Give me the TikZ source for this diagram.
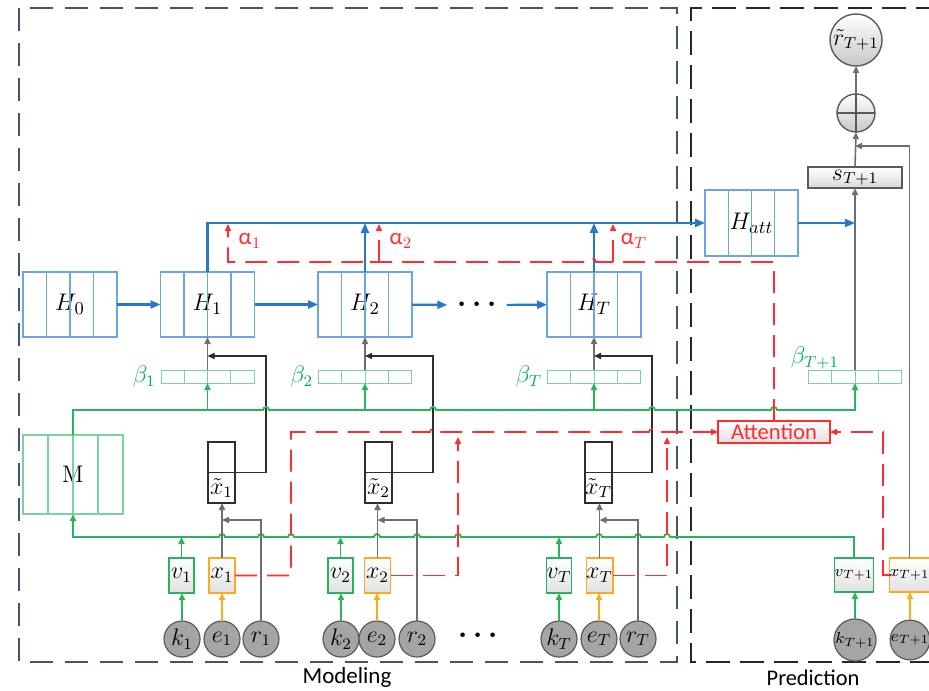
\documentclass[tikz,border=0pt]{standalone}
\usepackage{fontspec}
\usetikzlibrary{arrows.meta,calc}
\newfontfamily\carlito{Carlito}
\definecolor{hblue}{RGB}{110,165,220}
\definecolor{ablue}{RGB}{40,120,200}
\definecolor{gline}{RGB}{40,180,90}
\definecolor{lgreen}{RGB}{125,210,155}
\definecolor{tgreen}{RGB}{0,176,80}
\definecolor{rline}{RGB}{255,45,45}
\definecolor{oline}{RGB}{255,170,30}
\definecolor{gyline}{RGB}{110,110,110}
\definecolor{bkline}{RGB}{45,45,45}
\definecolor{mborder}{RGB}{68,84,106}
\definecolor{cfill}{RGB}{165,165,165}
\definecolor{cdraw}{RGB}{90,90,90}
\tikzset{
  arr/.style={-{Triangle[length=3.5pt,width=3pt]}},
  barr/.style={-{Triangle[length=5pt,width=4pt]}},
  hbox/.style={draw=hblue, line width=0.6pt, inner sep=0pt, outer sep=0pt, minimum width=47pt, minimum height=32.5pt, font=\fontsize{12.5}{14}\selectfont},
  bbar/.style={draw=lgreen, line width=0.5pt, inner sep=0pt, outer sep=0pt, minimum width=46.5pt, minimum height=6.5pt},
  mbox/.style={draw=lgreen, line width=0.6pt, inner sep=0pt, outer sep=0pt, minimum width=50pt, minimum height=39.5pt, font=\fontsize{12}{14}\selectfont},
  xtbox/.style={draw=bkline, line width=0.6pt, inner sep=0pt, outer sep=0pt, minimum width=13.5pt, minimum height=30.5pt},
  vbox/.style={draw=gline, line width=0.7pt, top color=white, bottom color=black!12, inner sep=0pt, outer sep=0pt, minimum width=12.5pt, minimum height=17.5pt, font=\fontsize{11.5}{13}\selectfont},
  xbox/.style={vbox, draw=oline, minimum width=13pt},
  inp/.style={circle, draw=cdraw, fill=cfill, line width=0.6pt, inner sep=0pt, outer sep=0pt, minimum size=18pt, font=\fontsize{11.5}{13}\selectfont},
  gcirc/.style={circle, draw=cdraw, top color=white, bottom color=black!22, line width=0.7pt, inner sep=0pt, outer sep=0pt},
  lab/.style={inner sep=1pt, font=\fontsize{11.5}{13}\selectfont},
  dotsn/.style={inner sep=5pt, font=\fontsize{14}{14}\selectfont\boldmath},
  bl/.style={draw=ablue, line width=1.1pt},
  gl/.style={draw=gline, line width=0.9pt},
  gyl/.style={draw=gyline, line width=0.8pt},
  bkl/.style={draw=bkline, line width=0.8pt},
  ol/.style={draw=oline, line width=0.9pt},
  rdl/.style={draw=rline, line width=0.8pt, dash pattern=on 11pt off 5pt},
}
\begin{document}
\begin{tikzpicture}[x=0.5pt,y=-0.5pt]
\useasboundingbox[fill=white] (0,0) rectangle (929,690);
% frames
\draw[draw=mborder, line width=1.1pt, dash pattern=on 11.5pt off 6pt] (19,8) rectangle (677,662);
\draw[draw=black!85, line width=1.1pt, dash pattern=on 12pt off 5pt] (940,8) -- (691,8) -- (691,662) -- (940,662);
\node[font=\carlito\fontsize{11.5}{13}\selectfont] (lmod) at (347,677) {Modeling};
\node[font=\carlito\fontsize{11.2}{13}\selectfont] (lpred) at (813,678) {Prediction};
% H boxes
\node[hbox] (H0) at (70,304.5) {$H_0$};
\node[hbox] (H1) at (207.5,304.5) {$H_1$};
\node[hbox] (H2) at (365,304.5) {$H_2$};
\node[hbox] (HT) at (594,304.5) {$H_T$};
\node[hbox, minimum width=46.5pt, minimum height=33pt] (Hatt) at (751.5,223) {$H_{att}$};
\foreach \n in {H0,H1,H2,HT,Hatt}{\foreach \f in {0.25,0.5,0.75}{\draw[draw=hblue,line width=0.6pt] ($(\n.north west)!\f!(\n.north east)$) -- ($(\n.south west)!\f!(\n.south east)$);}}
\node[dotsn] (dots1) at (477,305) {$\cdots$};
% beta bars
\node[bbar] (b1) at (207.5,376.5) {};
\node[bbar] (b2) at (365,376.5) {};
\node[bbar] (bT) at (594,376.5) {};
\node[bbar] (bT1) at (855,376.5) {};
\foreach \n in {b1,b2,bT,bT1}{\foreach \f in {0.25,0.5,0.75}{\draw[draw=lgreen,line width=0.5pt] ($(\n.north west)!\f!(\n.north east)$) -- ($(\n.south west)!\f!(\n.south east)$);}}
\node[lab, text=tgreen, anchor=east] (lb1) at ($(b1.west)+(-3,0)$) {$\beta_1$};
\node[lab, text=tgreen, anchor=east] (lb2) at ($(b2.west)+(-3,0)$) {$\beta_2$};
\node[lab, text=tgreen, anchor=east] (lbT) at ($(bT.west)+(-3,0)$) {$\beta_T$};
\node[lab, text=tgreen] (lbT1) at (815,358) {$\beta_{T+1}$};
% M
\node[mbox] (M) at (73,474.5) {M};
\foreach \f in {0.25,0.5,0.75}{\draw[draw=lgreen,line width=0.6pt] ($(M.north west)!\f!(M.north east)$) -- ($(M.south west)!\f!(M.south east)$);}
% x tilde boxes
\node[xtbox] (xt1) at (221.5,472.5) {};
\node[xtbox] (xt2) at (378.5,472.5) {};
\node[xtbox] (xtT) at (598.5,472.5) {};
\foreach \n in {xt1,xt2,xtT}{\draw[draw=bkline,line width=0.6pt] (\n.west) -- (\n.east);}
\node[lab] (lxt1) at (221.5,488) {$\tilde{x}_1$};
\node[lab] (lxt2) at (378.5,488) {$\tilde{x}_2$};
\node[lab] (lxtT) at (598.5,488) {$\tilde{x}_T$};
% input boxes
\node[vbox] (v1) at (181.5,575.5) {$v_1$};
\node[xbox] (x1) at (222,575.5) {$x_1$};
\node[vbox] (v2) at (340.5,575.5) {$v_2$};
\node[xbox] (x2) at (377.5,575.5) {$x_2$};
\node[vbox] (vT) at (559,575.5) {$v_T$};
\node[xbox] (xT) at (599.5,575.5) {$x_T$};
\node[vbox, minimum width=17pt, minimum height=17pt, font=\fontsize{8.5}{10}\selectfont] (vT1) at (854,575) {$v_{T+1}$};
\node[xbox, minimum width=17.5pt, minimum height=17pt, font=\fontsize{8.5}{10}\selectfont] (xT1) at (909.5,575) {$x_{T+1}$};
% circles
\node[inp] (k1) at (182,639) {$k_1$};
\node[inp] (e1) at (222,639) {$e_1$};
\node[inp] (r1) at (261,639) {$r_1$};
\node[inp] (k2) at (341,639) {$k_2$};
\node[inp] (e2) at (377,639) {$e_2$};
\node[inp] (r2) at (417,639) {$r_2$};
\node[inp] (kT) at (559,639) {$k_T$};
\node[inp] (eT) at (599,639) {$e_T$};
\node[inp] (rT) at (638,639) {$r_T$};
\node[inp, minimum size=19pt, font=\fontsize{8.5}{10}\selectfont] (kT1) at (855,640) {$k_{T+1}$};
\node[inp, minimum size=19pt, font=\fontsize{8.5}{10}\selectfont] (eT1) at (910,640) {$e_{T+1}$};
\node[dotsn] (dots2) at (478,636) {$\cdots$};
% prediction column
\node[gcirc, minimum size=26pt, font=\fontsize{11.5}{13}\selectfont] (rt) at (856,40) {$\tilde{r}_{T+1}$};
\node[gcirc, minimum size=19pt] (plus) at (856,113) {};
\draw[draw=cdraw, line width=0.7pt] (plus.north) -- (plus.south) (plus.west) -- (plus.east);
\node[draw=cdraw, line width=0.6pt, top color=white, bottom color=black!15, minimum width=47pt, minimum height=10.5pt, inner sep=0pt, outer sep=0pt, font=\fontsize{11.5}{13}\selectfont] (s) at (855,177.5) {$s_{T+1}$};
\node[draw=rline, line width=0.8pt, top color=white, bottom color=black!12, text=rline, font=\carlito\fontsize{11.3}{13}\selectfont, minimum width=56pt, minimum height=11pt, inner sep=0pt, outer sep=0pt] (att) at (774,432) {Attention};
% alpha labels
\node[lab, text=rline, font=\carlito\fontsize{11.5}{13}\selectfont] (la1) at (250,241) {α$_1$};
\node[lab, text=rline, font=\carlito\fontsize{11.5}{13}\selectfont] (la2) at (401,241) {α$_2$};
\node[lab, text=rline, font=\carlito\fontsize{11.5}{13}\selectfont] (laT) at (634,241) {α$_T$};
% coordinates
\coordinate (hy) at (0,356);
\coordinate (gy) at (0,410);
\coordinate (gb) at (0,537);
\coordinate (ry) at (0,520);
\coordinate (pj) at (855,146);
\coordinate (a2s) at (379,262); \coordinate (a2e) at (379,224);
\coordinate (aTs) at (613,262); \coordinate (aTe) at (613,224);
% blue chain
\draw[bl,barr] (H0) -- (H1);
\draw[bl,barr] (H1) -- (H2);
\draw[bl,barr] (H2) -- (dots1);
\draw[bl,barr] (dots1) -- (HT);
\draw[bl,barr] (H1.north) |- (Hatt.west);
\draw[bl,barr] (H2.north) -- (H2.north |- Hatt.west);
\draw[bl,barr] (HT.north) -- (HT.north |- Hatt.west);
\draw[bl,barr] (Hatt.east) -- (Hatt.east -| s.south);
% prediction gray
\draw[gyl,arr] (bT1.north) -- (s.south);
\draw[gyl,arr] (s.north) -- (plus.south);
\draw[gyl,arr] (plus.north) -- (rt.south);
\draw[gyl,arr] (xT1.north) |- (pj);
% beta -> H, xtilde -> H
\foreach \n/\bx in {1/266,2/433,T/652}{
  \draw[gyl,arr] (b\n.north) -- (H\n.south);
  \draw[bkl,arr] (xt\n.east) -- (\bx,472.5) |- (H\n.south |- hy);
}
% green lines
\draw[gl,arr] (M.north) -- (73,410) -- (263,410) arc[start angle=180,end angle=0,radius=1.5pt] -- (430,410) arc[start angle=180,end angle=0,radius=1.5pt] -- (649,410) arc[start angle=180,end angle=0,radius=1.5pt] -- (771,410) arc[start angle=180,end angle=0,radius=1.5pt] -- (bT1.south |- gy) -- (bT1.south);
\foreach \n in {1,2,T}{\draw[gl,arr] (b\n.south |- gy) -- (b\n.south);}
\draw[gl,arr] (vT1.north) -- (vT1.north |- gb) -- (670,537) arc[start angle=0,end angle=180,radius=1.5pt] -- (641,537) arc[start angle=0,end angle=180,radius=1.5pt] -- (602,537) arc[start angle=0,end angle=180,radius=1.5pt] -- (461,537) arc[start angle=0,end angle=180,radius=1.5pt] -- (420,537) arc[start angle=0,end angle=180,radius=1.5pt] -- (380,537) arc[start angle=0,end angle=180,radius=1.5pt] -- (294,537) arc[start angle=0,end angle=180,radius=1.5pt] -- (264,537) arc[start angle=0,end angle=180,radius=1.5pt] -- (225,537) arc[start angle=0,end angle=180,radius=1.5pt] -- (73,537) -- (M.south);
\foreach \n in {1,2,T}{
  \draw[gl,arr] (v\n.north) -- (v\n.north |- gb);
  \draw[gl,arr] (k\n.north) -- (k\n.north |- v\n.south);
  \draw[ol,arr] (e\n.north) -- (e\n.north |- x\n.south);
  \draw[gyl,arr] (x\n.north) -- (x\n.north |- xt\n.south);
  \draw[gyl,arr] (r\n.north) |- (x\n.north |- ry);
}
\draw[gl,arr] (kT1.north) -- (kT1.north |- vT1.south);
\draw[ol,arr] (eT1.north) -- (eT1.north |- xT1.south);
% red dashed
\draw[rdl,arr] (att.north) -- (774,262) -- (596,262) arc[start angle=0,end angle=180,radius=1.5pt] -- (368,262) arc[start angle=0,end angle=180,radius=1.5pt] -- (228,262) -- (228,224);
\draw[rdl,arr] (a2s) -- (a2e);
\draw[rdl,arr] (aTs) -- (aTe);
\draw[rdl,arr] (x1.east) -- (291,575.5) -- (291,432) -- (430,432) arc[start angle=180,end angle=0,radius=1.5pt] -- (649,432) arc[start angle=180,end angle=0,radius=1.5pt] -- (att.west);
\draw[rdl,arr] (x2.east) -- (458,575.5) -- (458,437);
\draw[rdl,arr] (xT.east) -- (667,575.5) -- (667,437);
\draw[rdl,arr] (xT1.west) -- (883,575) -- (883,432) -- (att.east);
\end{tikzpicture}
\end{document}
